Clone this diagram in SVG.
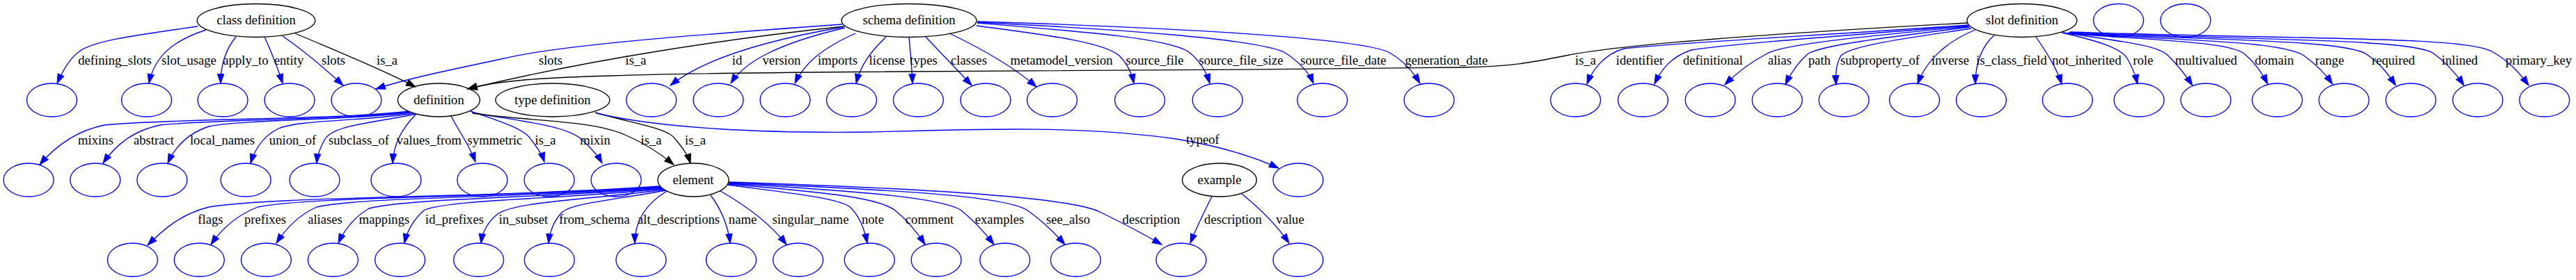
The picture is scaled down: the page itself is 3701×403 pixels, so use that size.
<svg xmlns="http://www.w3.org/2000/svg" width="3701" height="403" viewBox="0 0 3701 403">
<style>
.n{fill:none;stroke:#000;stroke-width:1.33}
.b{fill:none;stroke:#00f;stroke-width:1.33}
.t{font-family:"Liberation Serif","Times New Roman",serif;font-size:18.67px;fill:#000;text-anchor:middle}
.eb{fill:none;stroke:#00f;stroke-width:1.33;marker-end:url(#ab)}
.ek{fill:none;stroke:#000;stroke-width:1.33;marker-end:url(#ak)}
</style>
<defs>
<marker id="ab" viewBox="0 0 13.3 9.3" refX="13.3" refY="4.65" markerWidth="13.3" markerHeight="9.3" markerUnits="userSpaceOnUse" orient="auto" overflow="visible"><path d="M0,0 L13.3,4.65 L0,9.3 z" fill="#00f" stroke="#00f" stroke-width="1"/></marker>
<marker id="ak" viewBox="0 0 13.3 9.3" refX="13.3" refY="4.65" markerWidth="13.3" markerHeight="9.3" markerUnits="userSpaceOnUse" orient="auto" overflow="visible"><path d="M0,0 L13.3,4.65 L0,9.3 z" fill="#000" stroke="#000" stroke-width="1"/></marker>
</defs>
<rect width="3701" height="403" fill="#fff"/>
<g id="edges">
<path class="eb" d="M284,38 C200,50 135,58 114,74 C100,84 90,102 82,120"/>
<path class="eb" d="M296,43 C250,58 222,80 214,120"/>
<path class="eb" d="M339,53 C325,70 317,90 317,120"/>
<path class="eb" d="M380,53 C390,75 398,95 406,120"/>
<path class="eb" d="M406,52 C435,72 465,97 493,123"/>
<path class="ek" d="M424,48 C480,72 545,98 597,125"/>
<path class="eb" d="M1210,35 C1000,50 800,65 720,85 C650,100 585,113 540,128"/>
<path class="ek" d="M1213,38 C1050,55 850,85 672,128"/>
<path class="eb" d="M1211,39 C1100,58 1010,85 963,123"/>
<path class="eb" d="M1214,40 C1120,62 1070,88 1050,120"/>
<path class="eb" d="M1229,48 C1180,70 1155,92 1142,120"/>
<path class="eb" d="M1273,53 C1250,75 1236,95 1230,120"/>
<path class="eb" d="M1306,54 C1308,75 1310,95 1311,120"/>
<path class="eb" d="M1330,53 C1355,80 1375,100 1396,123"/>
<path class="eb" d="M1364,48 C1410,70 1455,95 1489,125"/>
<path class="eb" d="M1403,37 C1500,50 1585,60 1608,80 C1620,92 1626,105 1629,120"/>
<path class="eb" d="M1404,33 C1550,45 1680,55 1708,75 C1725,88 1733,103 1738,120"/>
<path class="eb" d="M1404,32 C1600,42 1800,55 1845,75 C1865,88 1880,103 1887,120"/>
<path class="eb" d="M1404,31 C1700,40 1950,55 1995,75 C2015,86 2030,103 2040,120"/>
<path class="ek" d="M2827,33 C2550,48 2320,65 2250,80 C2200,90 2170,96 2100,97 C1800,101 1400,102 1230,103.5 C1050,105 930,107 880,109 C770,112 710,117 672,128"/>
<path class="eb" d="M2828,36 C2600,52 2400,62 2333,70 C2305,78 2288,100 2280,121"/>
<path class="eb" d="M2828,37 C2600,55 2470,65 2430,72 C2400,82 2387,100 2377,121"/>
<path class="eb" d="M2829,38 C2650,55 2560,65 2539,77 C2510,92 2492,108 2478,122"/>
<path class="eb" d="M2830,39 C2700,55 2620,65 2598,77 C2585,88 2573,105 2565,122"/>
<path class="eb" d="M2832,41 C2740,55 2660,65 2645,80 C2638,92 2637,105 2638,122"/>
<path class="eb" d="M2838,43 C2800,58 2768,85 2755,121"/>
<path class="eb" d="M2866,50 C2848,65 2838,90 2838,121"/>
<path class="eb" d="M2925,53 C2940,75 2955,98 2962,121"/>
<path class="eb" d="M2962,47 C3020,60 3045,70 3055,82 C3063,95 3068,108 3071,121"/>
<path class="eb" d="M2964,47 C3050,60 3100,65 3115,80 C3128,93 3140,108 3150,123"/>
<path class="eb" d="M2966,48 C3100,58 3200,60 3224,77 C3240,90 3250,105 3258,121"/>
<path class="eb" d="M2968,48 C3150,58 3280,60 3310,80 C3328,93 3340,105 3351,121"/>
<path class="eb" d="M2970,48 C3200,58 3370,58 3400,78 C3420,92 3430,105 3442,123"/>
<path class="eb" d="M2972,47 C3250,58 3460,56 3495,76 C3515,90 3528,105 3540,123"/>
<path class="eb" d="M2974,46 C3300,57 3540,52 3580,74 C3605,88 3620,105 3633,123"/>
<path class="eb" d="M586,160 C500,172 250,170 150,180 C110,188 80,210 57,237"/>
<path class="eb" d="M588,161 C500,172 300,172 230,180 C190,188 165,210 148,235"/>
<path class="eb" d="M590,162 C520,172 350,172 300,182 C270,192 252,210 241,235"/>
<path class="eb" d="M594,163 C520,175 430,172 400,185 C380,195 367,212 360,235"/>
<path class="eb" d="M598,164 C530,178 480,180 467,200 C460,212 456,222 455,235"/>
<path class="eb" d="M597,165 C578,185 566,205 564,235"/>
<path class="eb" d="M648,167 C660,190 675,210 683,233"/>
<path class="eb" d="M676,160 C720,175 750,185 760,197 C770,210 778,220 782,233"/>
<path class="eb" d="M678,162 C750,175 810,180 835,200 C848,212 858,222 865,235"/>
<path class="ek" d="M679,163 C760,175 850,172 900,195 C930,208 950,222 968,237"/>
<path class="ek" d="M855,162 C920,180 960,185 970,200 C980,212 988,222 992,235"/>
<path class="eb" d="M857,163 C950,185 1100,192 1250,190 C1400,186 1550,180 1690,200 C1750,210 1800,225 1837,242"/>
<path class="eb" d="M948,268 C700,285 400,282 300,298 C260,308 235,330 212,353"/>
<path class="eb" d="M949,269 C720,285 450,282 370,298 C340,310 318,330 303,352"/>
<path class="eb" d="M950,270 C750,285 520,283 455,298 C428,310 410,330 397,350"/>
<path class="eb" d="M951,271 C780,285 590,285 530,300 C510,312 495,330 486,350"/>
<path class="eb" d="M952,272 C800,287 650,287 610,302 C595,315 585,332 581,350"/>
<path class="eb" d="M954,273 C850,287 740,290 715,308 C700,320 693,335 691,350"/>
<path class="eb" d="M957,274 C880,288 825,292 808,305 C795,318 790,333 788,350"/>
<path class="eb" d="M958,275 C925,295 912,320 912,350"/>
<path class="eb" d="M1021,281 C1035,300 1046,325 1049,350"/>
<path class="eb" d="M1035,275 C1070,295 1105,320 1130,352"/>
<path class="eb" d="M1045,266 C1150,280 1200,285 1220,297 C1235,310 1242,330 1246,350"/>
<path class="eb" d="M1046,265 C1200,278 1260,285 1285,302 C1305,318 1318,335 1329,352"/>
<path class="eb" d="M1047,264 C1250,276 1350,285 1380,302 C1400,318 1415,335 1428,352"/>
<path class="eb" d="M1047,263 C1300,274 1440,282 1475,302 C1498,318 1515,335 1530,352"/>
<path class="eb" d="M1047,262 C1350,272 1540,285 1580,305 C1615,322 1645,338 1669,352"/>
<path class="eb" d="M1741,283 C1730,305 1720,325 1710,350"/>
<path class="eb" d="M1784,279 C1810,300 1835,325 1852,350"/>
<g class="t">
<text x="165" y="93">defining_slots</text>
<text x="271.5" y="93">slot_usage</text>
<text x="353" y="93">apply_to</text>
<text x="415" y="93">entity</text>
<text x="479" y="93">slots</text>
<text x="556" y="93">is_a</text>
<text x="791" y="93">slots</text>
<text x="913.5" y="93">is_a</text>
<text x="1059" y="93">id</text>
<text x="1123" y="93">version</text>
<text x="1203.5" y="93">imports</text>
<text x="1274.5" y="93">license</text>
<text x="1327" y="93">types</text>
<text x="1392" y="93">classes</text>
<text x="1525" y="93">metamodel_version</text>
<text x="1659" y="93">source_file</text>
<text x="1783" y="93">source_file_size</text>
<text x="1930" y="93">source_file_date</text>
<text x="2078" y="93">generation_date</text>
<text x="2278" y="93">is_a</text>
<text x="2356" y="93">identifier</text>
<text x="2461" y="93">definitional</text>
<text x="2557" y="93">alias</text>
<text x="2614" y="93">path</text>
<text x="2701" y="93">subproperty_of</text>
<text x="2802" y="93">inverse</text>
<text x="2890" y="93">is_class_field</text>
<text x="2998" y="93">not_inherited</text>
<text x="3079" y="93">role</text>
<text x="3169.5" y="93">multivalued</text>
<text x="3267.5" y="93">domain</text>
<text x="3347" y="93">range</text>
<text x="3438.5" y="93">required</text>
<text x="3534" y="93">inlined</text>
<text x="3647.5" y="93">primary_key</text>
<text x="137.5" y="208">mixins</text>
<text x="221" y="208">abstract</text>
<text x="319.5" y="208">local_names</text>
<text x="420.5" y="208">union_of</text>
<text x="515.5" y="208">subclass_of</text>
<text x="616.5" y="208">values_from</text>
<text x="711" y="208">symmetric</text>
<text x="783.5" y="208">is_a</text>
<text x="855" y="208">mixin</text>
<text x="935.5" y="208">is_a</text>
<text x="999" y="208">is_a</text>
<text x="1728" y="207">typeof</text>
<text x="302.5" y="322">flags</text>
<text x="381" y="322">prefixes</text>
<text x="467" y="322">aliases</text>
<text x="552" y="322">mappings</text>
<text x="653" y="322">id_prefixes</text>
<text x="752" y="322">in_subset</text>
<text x="854" y="322">from_schema</text>
<text x="975" y="322">alt_descriptions</text>
<text x="1067" y="322">name</text>
<text x="1164.5" y="322">singular_name</text>
<text x="1254" y="322">note</text>
<text x="1335.5" y="322">comment</text>
<text x="1436" y="322">examples</text>
<text x="1534.5" y="322">see_also</text>
<text x="1654" y="322">description</text>
<text x="1771.5" y="322">description</text>
<text x="1853.5" y="322">value</text>
</g>
</g>
<g id="class_definition"><ellipse class="n" cx="368" cy="29.5" rx="84.8" ry="24"/><text class="t" x="368" y="35">class definition</text></g>
<g id="schema_definition"><ellipse class="n" cx="1306" cy="29.5" rx="97" ry="24"/><text class="t" x="1306" y="35">schema definition</text></g>
<g id="slot_definition"><ellipse class="n" cx="2905" cy="29.5" rx="79" ry="24"/><text class="t" x="2905" y="35">slot definition</text></g>
<g id="n_top1"><ellipse class="b" cx="3043.7" cy="29.5" rx="36" ry="24"/></g>
<g id="n_top2"><ellipse class="b" cx="3140" cy="29.5" rx="36" ry="24"/></g>
<g id="definition"><ellipse class="n" cx="630.5" cy="144" rx="59" ry="24"/><text class="t" x="630.5" y="149.5">definition</text></g>
<g id="type_definition"><ellipse class="n" cx="794" cy="144" rx="82" ry="24"/><text class="t" x="794" y="149.5">type definition</text></g>
<g id="element"><ellipse class="n" cx="996" cy="259" rx="51" ry="24"/><text class="t" x="996" y="264.5">element</text></g>
<g id="example"><ellipse class="n" cx="1752" cy="259" rx="53.4" ry="24"/><text class="t" x="1752" y="264.5">example</text></g>
<g id="row2">
<ellipse class="b" cx="74.5" cy="144" rx="36" ry="24"/>
<ellipse class="b" cx="210.6" cy="144" rx="36" ry="24"/>
<ellipse class="b" cx="320" cy="144" rx="36" ry="24"/>
<ellipse class="b" cx="416" cy="144" rx="36" ry="24"/>
<ellipse class="b" cx="512" cy="144" rx="36" ry="24"/>
<ellipse class="b" cx="935.8" cy="144" rx="36" ry="24"/>
<ellipse class="b" cx="1032" cy="144" rx="36" ry="24"/>
<ellipse class="b" cx="1128" cy="144" rx="36" ry="24"/>
<ellipse class="b" cx="1223.5" cy="144" rx="36" ry="24"/>
<ellipse class="b" cx="1319.4" cy="144" rx="36" ry="24"/>
<ellipse class="b" cx="1416" cy="144" rx="36" ry="24"/>
<ellipse class="b" cx="1511.6" cy="144" rx="36" ry="24"/>
<ellipse class="b" cx="1637.6" cy="144" rx="36" ry="24"/>
<ellipse class="b" cx="1749.2" cy="144" rx="36" ry="24"/>
<ellipse class="b" cx="1899.8" cy="144" rx="36" ry="24"/>
<ellipse class="b" cx="2053.2" cy="144" rx="36" ry="24"/>
<ellipse class="b" cx="2263.6" cy="144" rx="36" ry="24"/>
<ellipse class="b" cx="2360.5" cy="144" rx="36" ry="24"/>
<ellipse class="b" cx="2457.2" cy="144" rx="36" ry="24"/>
<ellipse class="b" cx="2553.3" cy="144" rx="36" ry="24"/>
<ellipse class="b" cx="2649.2" cy="144" rx="36" ry="24"/>
<ellipse class="b" cx="2750.6" cy="144" rx="36" ry="24"/>
<ellipse class="b" cx="2846.5" cy="144" rx="36" ry="24"/>
<ellipse class="b" cx="2970.4" cy="144" rx="36" ry="24"/>
<ellipse class="b" cx="3073.2" cy="144" rx="36" ry="24"/>
<ellipse class="b" cx="3169.1" cy="144" rx="36" ry="24"/>
<ellipse class="b" cx="3271.7" cy="144" rx="36" ry="24"/>
<ellipse class="b" cx="3367.6" cy="144" rx="36" ry="24"/>
<ellipse class="b" cx="3463.7" cy="144" rx="36" ry="24"/>
<ellipse class="b" cx="3559.8" cy="144" rx="36" ry="24"/>
<ellipse class="b" cx="3655.7" cy="144" rx="36" ry="24"/>
</g>
<g id="row3">
<ellipse class="b" cx="41.1" cy="259" rx="36" ry="24"/>
<ellipse class="b" cx="136.8" cy="259" rx="36" ry="24"/>
<ellipse class="b" cx="232.9" cy="259" rx="36" ry="24"/>
<ellipse class="b" cx="353.1" cy="259" rx="36" ry="24"/>
<ellipse class="b" cx="452" cy="259" rx="36" ry="24"/>
<ellipse class="b" cx="569" cy="259" rx="36" ry="24"/>
<ellipse class="b" cx="693" cy="259" rx="36" ry="24"/>
<ellipse class="b" cx="789.1" cy="259" rx="36" ry="24"/>
<ellipse class="b" cx="885.2" cy="259" rx="36" ry="24"/>
<ellipse class="b" cx="1865" cy="259" rx="36" ry="24"/>
</g>
<g id="row4">
<ellipse class="b" cx="190.4" cy="374" rx="36" ry="24"/>
<ellipse class="b" cx="286.3" cy="374" rx="36" ry="24"/>
<ellipse class="b" cx="382.4" cy="374" rx="36" ry="24"/>
<ellipse class="b" cx="478.4" cy="374" rx="36" ry="24"/>
<ellipse class="b" cx="574.7" cy="374" rx="36" ry="24"/>
<ellipse class="b" cx="687.7" cy="374" rx="36" ry="24"/>
<ellipse class="b" cx="789.3" cy="374" rx="36" ry="24"/>
<ellipse class="b" cx="921" cy="374" rx="36" ry="24"/>
<ellipse class="b" cx="1050.5" cy="374" rx="36" ry="24"/>
<ellipse class="b" cx="1146.6" cy="374" rx="36" ry="24"/>
<ellipse class="b" cx="1249.2" cy="374" rx="36" ry="24"/>
<ellipse class="b" cx="1345.1" cy="374" rx="36" ry="24"/>
<ellipse class="b" cx="1443.8" cy="374" rx="36" ry="24"/>
<ellipse class="b" cx="1545.4" cy="374" rx="36" ry="24"/>
<ellipse class="b" cx="1697" cy="374" rx="36" ry="24"/>
<ellipse class="b" cx="1865" cy="374" rx="36" ry="24"/>
</g>
</svg>
